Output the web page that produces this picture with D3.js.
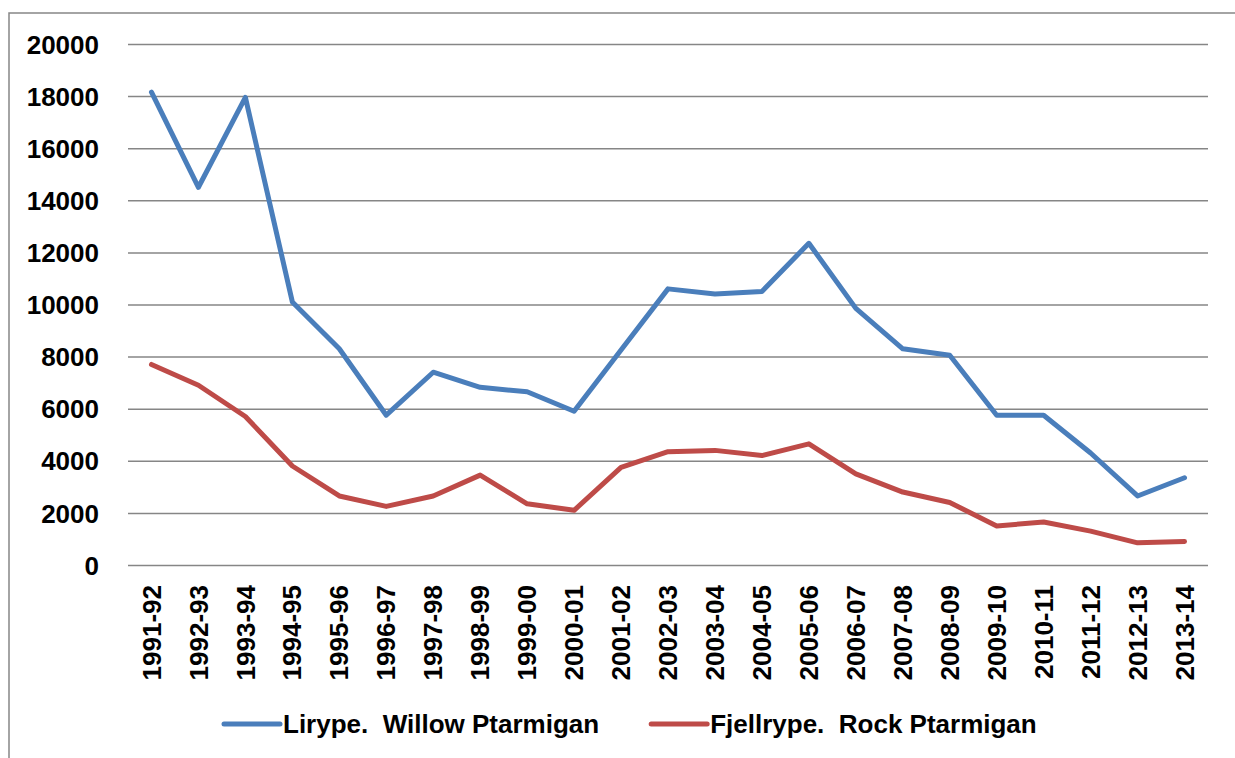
<!DOCTYPE html>
<html>
<head>
<meta charset="utf-8">
<script src="https://cdn.jsdelivr.net/npm/d3@7"></script>
<style>
  body { margin: 0; background: #fff; }
  svg { display: block; }
  text { font-family: "Liberation Sans", Arial, sans-serif; font-weight: bold; fill: #000; }
</style>
</head>
<body>
<script>
var seasons = ["1991-92", "1992-93", "1993-94", "1994-95", "1995-96", "1996-97",
    "1997-98", "1998-99", "1999-00", "2000-01", "2001-02", "2002-03", "2003-04",
    "2004-05", "2005-06", "2006-07", "2007-08", "2008-09", "2009-10", "2010-11",
    "2011-12", "2012-13", "2013-14"];

var willow = [18150, 14500, 17950, 10100, 8300, 5750, 7400, 6820, 6650, 5900, 8250,
    10600, 10400, 10500, 12350, 9850, 8300, 8050, 5750, 5750, 4300, 2650, 3350];

var rock = [7700, 6900, 5700, 3800, 2650, 2250, 2650, 3450, 2350, 2100, 3750,
    4350, 4400, 4200, 4650, 3500, 2800, 2400, 1500, 1650, 1300, 850, 900];

var yTicks = [0, 2000, 4000, 6000, 8000, 10000, 12000, 14000, 16000, 18000, 20000];

var seriesNames = ["Lirype.  Willow Ptarmigan", "Fjellrype.  Rock Ptarmigan"];
var seriesColors = ["#4a7ebb", "#be4b48"];

var width = 1235,
    height = 758,
    margins = {top: 44, left: 128, right: 27, bottom: 193};

var svg = d3.select("body").append("svg")
    .attr("width", width)
    .attr("height", height);

// outer chart frame (right and bottom edges fall outside the picture)
svg.append("rect")
    .attr("x", 9)
    .attr("y", 13)
    .attr("width", 1260)
    .attr("height", 800)
    .attr("fill", "none")
    .attr("stroke", "#868686")
    .attr("stroke-width", 1.5);

var x = d3.scaleBand()
    .domain(seasons)
    .range([margins.left, width - margins.right])
    .padding(0);

var y = d3.scaleLinear()
    .domain([0, 20000])
    .range([height - margins.bottom, margins.top]);

function cx(d) {
    return x(d) + x.bandwidth() / 2;
}

// y axis + gridlines
var yAxis = d3.axisLeft(y)
    .tickValues(yTicks)
    .tickSize(-(width - margins.left - margins.right))
    .tickPadding(29)
    .tickFormat(d3.format("d"));

var yG = svg.append("g")
    .attr("class", "y axis")
    .attr("transform", "translate(" + margins.left + ",0)")
    .call(yAxis);

yG.select(".domain").remove();
yG.selectAll(".tick line")
    .attr("stroke", "#868686")
    .attr("stroke-width", 1.5);
yG.selectAll(".tick text")
    .attr("x", -29)
    .attr("dy", "0.35em")
    .style("font-size", "26px");

// x axis labels, rotated
var xAxis = d3.axisBottom(x).tickSize(0);

var xG = svg.append("g")
    .attr("class", "x axis")
    .attr("transform", "translate(0," + y(0) + ")")
    .call(xAxis);

xG.select(".domain").remove();
xG.selectAll(".tick text")
    .attr("transform", "rotate(-90)")
    .attr("x", -20)
    .attr("y", 0)
    .attr("dy", "0.35em")
    .style("text-anchor", "end")
    .style("font-size", "26px");

// lines
var line = d3.line()
    .x(function(d, i) { return cx(seasons[i]); })
    .y(function(d) { return y(d); });

[willow, rock].forEach(function(series, i) {
    svg.append("path")
        .datum(series)
        .attr("fill", "none")
        .attr("stroke", seriesColors[i])
        .attr("stroke-width", 5)
        .attr("stroke-linejoin", "round")
        .attr("stroke-linecap", "round")
        .attr("d", line);
});

// legend
var legendY = 724,
    legendX = 224;

seriesNames.forEach(function(name, i) {
    var g = svg.append("g")
        .attr("class", "legend")
        .attr("transform", "translate(" + legendX + "," + legendY + ")");

    g.append("line")
        .attr("x1", 0)
        .attr("x2", 56)
        .attr("y1", 0)
        .attr("y2", 0)
        .attr("stroke", seriesColors[i])
        .attr("stroke-width", 5)
        .attr("stroke-linecap", "round");

    var t = g.append("text")
        .attr("x", 59)
        .attr("y", 0)
        .attr("dy", "0.35em")
        .style("font-size", "26px")
        .style("white-space", "pre")
        .text(name);

    legendX += 59 + t.node().getComputedTextLength() + 52;
});
</script>
</body>
</html>
